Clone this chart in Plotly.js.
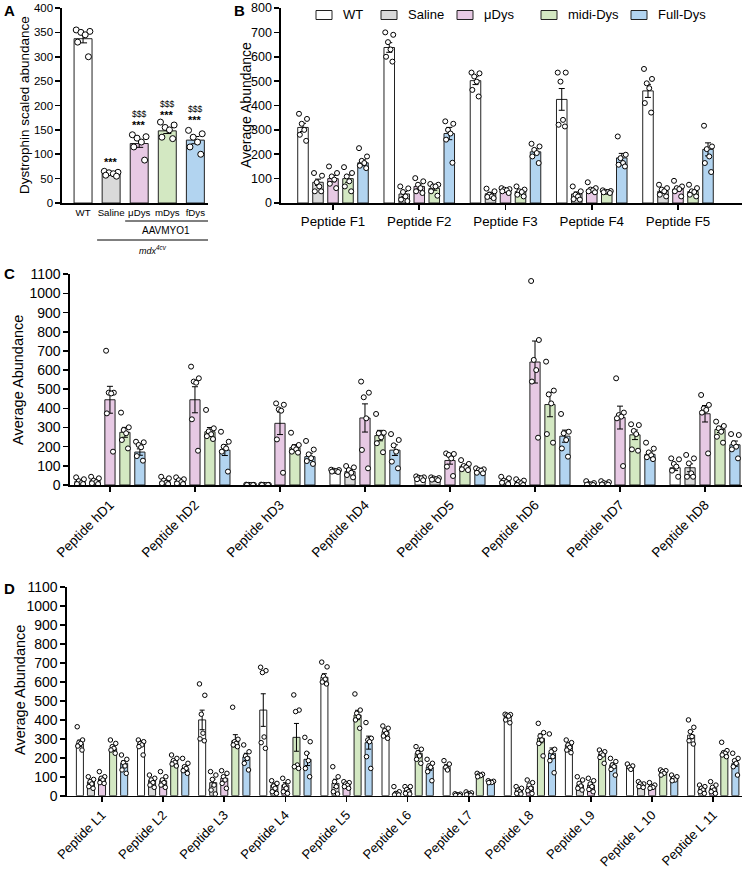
<!DOCTYPE html>
<html>
<head>
<meta charset="utf-8">
<script src="https://cdn.plot.ly/plotly-3.0.1.min.js"></script>
<style>
  html, body { margin: 0; padding: 0; background: #fff; }
  #chart { width: 746px; height: 869px; }
</style>
</head>
<body>
<div id="chart"></div>
<script>
// ---------- groups and series ----------
const seriesNames = ['WT', 'Saline', 'μDys', 'midi-Dys', 'Full-Dys'];
const seriesFill = ['#ffffff', '#d9d9d9', '#e7c9e4', '#d3e8c2', '#b2d4f0'];

// ---------- panel A: dystrophin scaled abundance ----------
const aLabels = ['WT', 'Saline', 'μDys', 'mDys', 'fDys'];
const aMean = [337, 60, 122, 148, 129];
const aPoints = [
  [355, 352, 350, 345, 330, 300],
  [65, 63, 62, 60, 57, 55],
  [140, 136, 133, 125, 115, 88],
  [166, 160, 155, 150, 135, 132],
  [149, 142, 135, 125, 115, 100]
];
const aStars = ['', '***', '***', '***', '***'];
const aStarY = [0, 84, 159, 181, 170];
const aDollars = ['', '', '$$$', '$$$', '$$$'];
const aDollarY = [0, 0, 182, 203, 192];

// ---------- panel B: peptides F1–F5 ----------
const bGroups = ['Peptide F1', 'Peptide F2', 'Peptide F3', 'Peptide F4', 'Peptide F5'];
const bWTMean = [310, 638, 502, 425, 460];
const bWT = [[366,345,325,300,280,255],[700,690,660,630,600,580],[535,532,519,498,464,437],[535,535,498,341,321,314],[550,509,491,471,410,371]];
const bSalMean = [85, 37, 38, 37, 48];
const bSal = [[123,112,85,68,48,48],[68,60,45,27,14,8],[59,48,34,27,25,20],[68,48,34,27,16,14],[75,61,48,34,27,55]];
const bMuMean = [100, 68, 52, 55, 57];
const bMu = [[150,123,109,96,79,61],[102,89,75,61,48,41],[61,57,52,48,41,55],[85,61,55,52,48,44],[91,68,61,48,27,57]];
const bMidiMean = [100, 60, 47, 45, 47];
const bMidi = [[147,123,109,89,68,48],[78,75,68,48,30,68],[68,55,48,34,27,45],[52,49,46,44,41,45],[75,61,48,34,27,45]];
const bFullMean = [165, 285, 210, 185, 220];
const bFull = [[225,191,173,164,153,143],[335,325,300,285,260,165],[243,232,218,205,191,164],[273,198,184,164,157,150],[317,232,221,191,164,127]];

// ---------- panel C: peptides hD1–hD8 ----------
const cGroups = ['Peptide hD1','Peptide hD2','Peptide hD3','Peptide hD4','Peptide hD5','Peptide hD6','Peptide hD7','Peptide hD8'];
const cWTMean = [20, 18, 1, 74, 36, 20, 6, 90];
const cWT = [[40,30,20,10,5,5],[43,35,23,12,9,5],[2,1,1,0,0,0],[80,78,75,72,70,68],[45,40,38,35,30,25],[43,35,23,12,5,15],[20,10,5,3,2,0],[139,134,110,96,75,43]];
const cSalMean = [22, 20, 1, 70, 32, 13, 9, 90];
const cSal = [[43,35,23,9,5,15],[40,30,25,15,8,5],[2,1,1,0,0,0],[99,92,78,64,52,40],[40,36,34,30,28,25],[30,23,9,0,0,15],[20,15,10,5,3,2],[157,139,113,61,43,43]];
const cMuMean = [445, 445, 322, 350, 128, 642, 352, 372];
const cMu = [[701,482,482,478,374,174],[618,557,540,534,343,179],[426,419,395,388,238,64],[540,482,458,348,183,87],[165,162,157,139,96,47],[1065,757,653,600,540,247],[557,378,365,357,348,99],[470,418,400,392,378,165]];
const cMidiMean = [275, 278, 195, 258, 98, 420, 262, 290];
const cMidi = [[378,301,287,270,235,191],[392,296,280,265,255,240],[273,209,197,186,174,169],[371,273,270,249,218,171],[130,110,99,92,82,78],[644,493,473,426,266,221],[317,313,282,266,186,179],[331,308,296,278,252,221]];
const cFullMean = [172, 182, 148, 182, 75, 255, 160, 210];
const cFull = [[226,223,209,197,151,127],[278,226,200,191,174,70],[230,185,160,140,125,110],[266,235,207,174,122,87],[87,82,78,75,64,61],[371,278,270,235,191,148],[221,190,170,155,145,135],[266,261,218,200,186,139]];

// ---------- panel D: peptides L1–L11 ----------
const dGroups = ['Peptide L1','Peptide L2','Peptide L3','Peptide L4','Peptide L5','Peptide L6','Peptide L7','Peptide L8','Peptide L9','Peptide L 10','Peptide L 11'];
const dWTMean = [276, 276, 400, 452, 625, 338, 153, 421, 268, 153, 320];
const dWT = [[364,294,282,276,262,241],[294,285,276,268,259,215],[590,530,430,330,300,290],[678,660,650,310,280,250],[705,680,630,615,600,590],[368,356,343,329,315,303],[185,167,150,136],[430,428,425,420,400,385],[294,280,268,255,241,227],[167,157,150,139],[400,361,338,312,290,273]];
const dSalMean = [72, 80, 69, 56, 65, 15, 5, 30, 56, 62, 39];
const dSal = [[100,86,74,62,48,39],[109,92,83,69,56,44],[127,109,86,56,30,9],[79,65,51,39,21,12],[153,100,74,48,21,9],[48,21,12,9,4,4],[10,8,5,3,2,0],[48,39,30,21,12,9],[100,83,65,51,39,30],[74,62,51,48,44,62],[56,48,39,30,21,12]];
const dMuMean = [92, 79, 92, 56, 62, 30, 10, 48, 56, 51, 39];
const dMu = [[127,100,92,83,69,65],[127,100,83,69,56,44],[132,118,100,83,65,39],[92,74,51,39,21,12],[74,69,62,55,48,39],[48,48,33,21,12,9],[20,15,10,8,5,2],[83,69,56,39,26,12],[92,79,62,48,33,21],[69,56,48,44,39],[74,56,44,30,21,12]];
const dMidiMean = [250, 180, 290, 308, 426, 224, 109, 303, 220, 125, 224];
const dMidi = [[294,276,259,241,224,250],[215,197,185,176,167,157],[467,298,285,276,268,259],[532,452,444,162,153,144],[537,452,435,417,400,356],[259,245,227,210,192,171],[118,113,109,106,100],[382,333,315,294,276,210],[241,232,224,215,202,171],[136,132,127,118,109],[282,238,227,224,215,206]];
const dFullMean = [171, 144, 205, 192, 280, 150, 72, 224, 160, 95, 171];
const dFull = [[215,192,174,157,136,118],[197,171,153,144,132,118],[268,232,210,197,171,136],[308,285,224,185,144,100],[386,303,294,285,206,144],[192,171,157,150,127,79],[79,76,72,69,70],[326,245,232,206,185,121],[197,180,162,153,139,109],[109,100,92,83,79],[224,197,185,171,153,109]];

// ---------- helpers ----------
const FONT = 'Arial, "Liberation Sans", Helvetica, sans-serif';
const W = 746, H = 869;
const px = v => v / W;          // horizontal pixel -> paper
const py = v => 1 - v / H;      // vertical pixel -> paper

function sem(arr) {
  const n = arr.length;
  const m = arr.reduce((s, v) => s + v, 0) / n;
  const ss = arr.reduce((s, v) => s + (v - m) * (v - m), 0);
  return Math.sqrt(ss / (n - 1)) / Math.sqrt(n);
}

// horizontal spread of the individual animals inside one bar
const spread = [-0.38, 0.38, -0.12, 0.12, -0.3, 0.3, 0];

const traces = [];

function addSeries(ax, ay, xs, means, pts, fill, name, barW, msize, capW) {
  traces.push({
    type: 'bar', xaxis: ax, yaxis: ay, name: name,
    x: xs, y: means, width: barW,
    marker: { color: fill, line: { color: '#222', width: 1 } },
    error_y: { type: 'data', array: pts.map(sem), visible: true, color: '#000', thickness: 1, width: capW },
    showlegend: false, hoverinfo: 'skip'
  });
  const px_ = [], py_ = [];
  pts.forEach((grp, g) => {
    // sort so that neighbouring values spread apart
    const sorted = grp.slice().sort((a, b) => b - a);
    sorted.forEach((v, j) => {
      px_.push(xs[g] + spread[j % spread.length] * barW);
      py_.push(v);
    });
  });
  traces.push({
    type: 'scatter', mode: 'markers', xaxis: ax, yaxis: ay,
    x: px_, y: py_, showlegend: false, hoverinfo: 'skip',
    marker: { symbol: 'circle', size: msize, color: '#fff', line: { color: '#000', width: 1 } }
  });
}

function addPanel(ax, ay, nGroups, meansList, ptsList, slot, barW, msize, capW) {
  meansList.forEach((means, k) => {
    const xs = [];
    for (let g = 0; g < nGroups; g++) xs.push(g + (k - 2) * slot);
    addSeries(ax, ay, xs, means, ptsList[k], seriesFill[k], seriesNames[k], barW, msize, capW);
  });
}

// panel A: one bar per group
aMean.forEach((m, k) => {
  addSeries('x', 'y', [k], [m], [aPoints[k]], seriesFill[k], aLabels[k], 0.64, 6, 4);
});

addPanel('x2', 'y2', bGroups.length,
  [bWTMean, bSalMean, bMuMean, bMidiMean, bFullMean],
  [bWT, bSal, bMu, bMidi, bFull], 0.174, 0.122, 5, 3);

addPanel('x3', 'y3', cGroups.length,
  [cWTMean, cSalMean, cMuMean, cMidiMean, cFullMean],
  [cWT, cSal, cMu, cMidi, cFull], 0.176, 0.12, 5, 3);

addPanel('x4', 'y4', dGroups.length,
  [dWTMean, dSalMean, dMuMean, dMidiMean, dFullMean],
  [dWT, dSal, dMu, dMidi, dFull], 0.181, 0.115, 4.5, 2.5);

// ---------- axes ----------
const common = {
  showline: true, linecolor: '#000', linewidth: 1.6,
  ticks: 'outside', ticklen: 5, tickwidth: 1.6, tickcolor: '#000',
  showgrid: false, zeroline: false, fixedrange: true
};
const tf = size => ({ family: FONT, size: size, color: '#000' });
const idx = n => Array.from({ length: n }, (_, i) => i);

const layout = {
  width: W, height: H,
  margin: { l: 0, r: 0, t: 0, b: 0 },
  paper_bgcolor: '#fff', plot_bgcolor: 'rgba(0,0,0,0)',
  barmode: 'overlay',
  font: { family: FONT, color: '#000' },
  showlegend: false,

  xaxis: Object.assign({}, common, {
    domain: [px(62), px(208)], range: [-0.75, 4.45], anchor: 'y',
    ticks: '', tickvals: idx(5), ticktext: aLabels, tickfont: tf(9.7)
  }),
  yaxis: Object.assign({}, common, {
    domain: [py(203), py(8)], range: [0, 400], dtick: 50, anchor: 'x', tickfont: tf(11.5)
  }),

  xaxis2: Object.assign({}, common, {
    domain: [px(281), px(742)], range: [-0.603, 4.742], anchor: 'y2',
    tickvals: idx(bGroups.length), ticktext: bGroups, tickfont: tf(13.3)
  }),
  yaxis2: Object.assign({}, common, {
    domain: [py(203), py(8)], range: [0, 800], dtick: 100, anchor: 'x2', tickfont: tf(12.5)
  }),

  xaxis3: Object.assign({}, common, {
    domain: [px(70), px(742)], range: [-0.47, 7.435], anchor: 'y3',
    tickvals: idx(cGroups.length), ticktext: cGroups, tickangle: -45, tickfont: tf(13.5)
  }),
  yaxis3: Object.assign({}, common, {
    domain: [py(485), py(274.3)], range: [0, 1100], dtick: 100, anchor: 'x3', tickfont: tf(14)
  }),

  xaxis4: Object.assign({}, common, {
    domain: [px(67), px(742)], range: [-0.573, 10.47], anchor: 'y4',
    tickvals: idx(dGroups.length), ticktext: dGroups, tickangle: -45, tickfont: tf(13)
  }),
  yaxis4: Object.assign({}, common, {
    domain: [py(795.7), py(587.3)], range: [0, 1100], dtick: 100, anchor: 'x4', tickfont: tf(14)
  }),

  shapes: [
    { type: 'line', xref: 'x', yref: 'paper', x0: 1.5, x1: 4.45, y0: py(221), y1: py(221), line: { color: '#000', width: 1 } },
    { type: 'line', xref: 'x', yref: 'paper', x0: 0.5, x1: 4.45, y0: py(240), y1: py(240), line: { color: '#000', width: 1 } }
  ],
  annotations: []
};

const ann = layout.annotations;
function label(text, x, y, size, opts) {
  ann.push(Object.assign({
    text: text, xref: 'paper', yref: 'paper', x: px(x), y: py(y),
    showarrow: false, xanchor: 'center', yanchor: 'middle',
    font: tf(size)
  }, opts || {}));
}

// legend for panel B: swatch + name per series
const legendSwatchX = [316, 381, 457, 541, 631];
seriesNames.forEach((name, k) => {
  const x0 = legendSwatchX[k];
  layout.shapes.push({
    type: 'rect', xref: 'paper', yref: 'paper',
    x0: px(x0), x1: px(x0 + 16), y0: py(19.5), y1: py(10.5),
    fillcolor: seriesFill[k], line: { color: '#222', width: 1 }
  });
  label(name, x0 + 25, 15, 13, { xanchor: 'left' });
});

// panel letters
label('<b>A</b>', 9, 10, 15);
label('<b>B</b>', 239, 10, 15);
label('<b>C</b>', 9, 274, 15);
label('<b>D</b>', 9, 588, 15);

// axis titles
label('Dystrophin scaled abundance', 24, 105, 13.5, { textangle: -90 });
label('Average Abundance', 246, 105, 14, { textangle: -90 });
label('Average Abundance', 18, 380, 14.5, { textangle: -90 });
label('Average Abundance', 20, 690, 14.5, { textangle: -90 });

// treatment grouping under panel A
label('AAVMYO1', 166, 230, 10);
label('<i>mdx<sup>4cv</sup></i>', 153, 250, 9);

// significance marks in panel A
aStars.forEach((s, k) => {
  if (!s) return;
  ann.push({ text: '<b>' + s + '</b>', xref: 'x', yref: 'y', x: k, y: aStarY[k], showarrow: false,
    yanchor: 'middle', font: tf(11) });
});
aDollars.forEach((s, k) => {
  if (!s) return;
  ann.push({ text: s, xref: 'x', yref: 'y', x: k, y: aDollarY[k], showarrow: false,
    yanchor: 'middle', font: tf(8.5) });
});

Plotly.newPlot('chart', traces, layout, { staticPlot: true, displayModeBar: false });
</script>
</body>
</html>
